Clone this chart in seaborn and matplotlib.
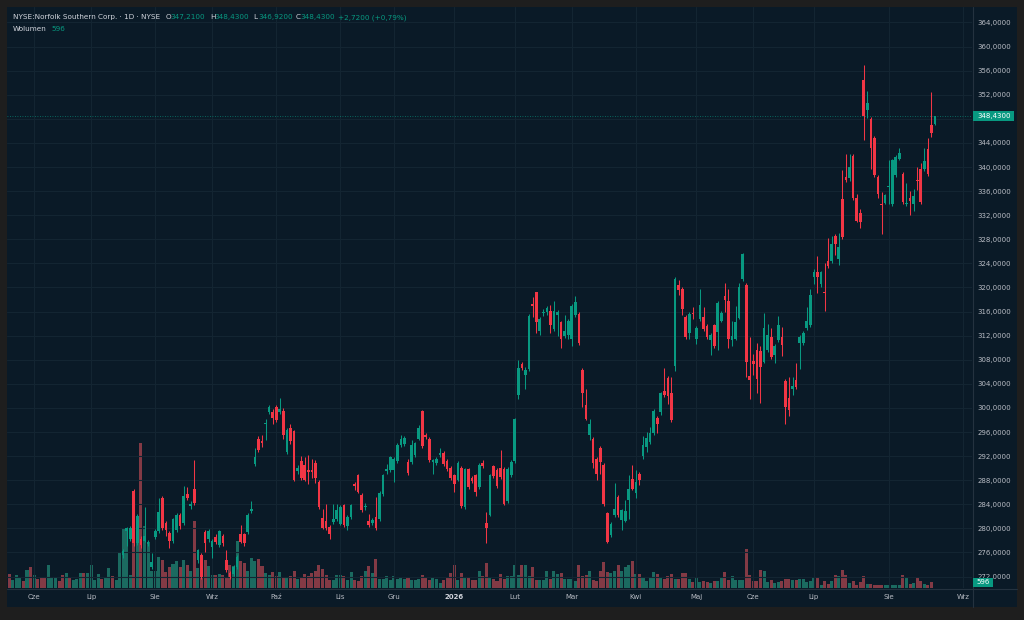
import numpy as np
import pandas as pd
import matplotlib.pyplot as plt
from matplotlib.patches import Rectangle
from matplotlib.lines import Line2D
import seaborn as sns

# NYSE:NSC daily bars. Bars before candle_start trade below the visible price range.
candle_start = 32

opens = [
    275.5, 279.5, 278.3, 286.2, 277.6, 278.3, 277.9, 277.4, 273.6, 278.5,
    279.6, 285.1, 280.9, 279.3, 277.9, 279.8, 282.2, 280.9, 285.7, 283.7,
    286.5, 274.7, 275.5, 279.4, 278.2, 276.9, 278.6, 277.2, 278.7, 274.8,
    272.6, 272.4, 273.6, 279.1, 279.0, 279.4, 282.9, 290.7, 294.9, 294.5,
    297.3, 299.4, 299.3, 300.1, 299.4, 299.5, 292.7, 296.6, 296.1, 289.5,
    291.2, 290.5, 289.7, 289.7, 290.9, 287.7, 281.7, 281.2, 280.2, 281.1,
    281.5, 280.8, 283.8, 280.4, 281.9, 287.4, 288.8, 285.6, 283.6, 281.2,
    280.9, 281.9, 281.6, 285.7, 289.5, 289.7, 289.7, 291.2, 293.8, 294.0,
    291.0, 291.0, 292.2, 294.9, 299.5, 295.5, 294.9, 291.0, 290.9, 292.2,
    292.5, 291.2, 290.1, 288.8, 288.1, 290.0, 283.6, 289.8, 288.4, 288.8,
    286.9, 290.8, 280.9, 282.3, 290.3, 289.7, 290.1, 289.9, 284.5, 288.8,
    291.2, 302.1, 307.3, 305.5, 306.4, 317.2, 319.2, 312.8, 315.7, 316.0,
    316.1, 313.1, 315.5, 314.2, 311.9, 312.1, 311.4, 315.4, 315.6, 306.3,
    300.5, 295.5, 294.8, 291.5, 293.3, 290.5, 282.5, 278.9, 282.2, 285.2,
    281.4, 281.3, 284.7, 288.2, 285.8, 289.0, 292.0, 293.5, 294.4, 295.8,
    298.4, 299.4, 302.8, 305.0, 302.4, 306.9, 320.4, 319.7, 315.1, 312.5,
    315.8, 311.4, 314.7, 315.1, 313.6, 311.3, 313.7, 312.6, 314.5, 318.6,
    317.7, 311.2, 311.5, 315.0, 321.4, 320.4, 305.3, 307.8, 309.6, 309.5,
    307.7, 309.6, 311.8, 308.8, 311.3, 311.8, 304.5, 301.7, 303.1, 304.7,
    310.8, 310.7, 313.3, 313.8, 321.8, 322.6, 320.6, 319.3, 324.4, 324.4,
    328.5, 324.8, 334.7, 338.3, 338.2, 341.8, 334.8, 332.3, 354.4, 349.5,
    348.0, 344.9, 338.3, 333.9, 334.1, 336.6, 333.9, 338.7, 341.4, 338.8,
    333.8, 334.8, 333.9, 337.8, 339.7, 339.7, 343.0, 346.9, 347.21,
]
highs = [
    276.6, 280.3, 280.4, 286.6, 282.4, 278.8, 283.5, 278.0, 275.9, 279.9,
    285.1, 285.3, 281.3, 279.6, 281.8, 282.6, 282.6, 287.1, 286.9, 284.5,
    291.3, 276.6, 275.9, 279.8, 279.9, 278.2, 279.0, 279.8, 279.1, 276.4,
    273.0, 274.0, 275.6, 280.5, 279.3, 282.6, 284.5, 293.3, 295.3, 295.5,
    298.2, 300.5, 299.9, 300.5, 301.7, 300.0, 296.6, 297.4, 296.4, 290.6,
    292.0, 291.9, 292.2, 291.6, 291.3, 288.0, 283.3, 284.1, 280.5, 284.1,
    284.0, 283.8, 284.1, 282.2, 284.1, 287.7, 289.1, 285.9, 284.2, 282.4,
    281.8, 285.2, 286.2, 289.1, 290.7, 292.1, 291.9, 294.1, 295.5, 295.3,
    291.6, 294.6, 294.4, 297.2, 299.7, 295.9, 295.2, 291.6, 291.9, 293.3,
    292.8, 291.5, 290.4, 289.1, 291.2, 290.3, 290.1, 290.1, 288.7, 289.1,
    290.8, 291.3, 282.7, 289.1, 290.6, 290.0, 293.0, 290.2, 290.2, 291.3,
    298.4, 308.0, 307.6, 306.8, 315.6, 318.4, 319.3, 315.1, 316.5, 317.0,
    317.1, 317.7, 316.3, 314.5, 315.5, 314.8, 317.3, 318.6, 315.9, 306.6,
    303.2, 298.2, 295.1, 291.8, 293.6, 290.8, 282.8, 281.0, 287.5, 285.5,
    283.3, 284.7, 288.8, 290.6, 289.7, 289.3, 295.3, 296.0, 296.9, 299.9,
    298.7, 302.7, 306.6, 305.3, 305.2, 321.8, 321.2, 320.0, 315.4, 315.9,
    316.8, 313.6, 319.7, 316.8, 313.9, 312.4, 314.0, 317.7, 316.1, 320.7,
    319.8, 314.5, 316.9, 320.7, 325.8, 320.7, 311.7, 309.0, 310.7, 310.3,
    315.7, 313.9, 313.2, 310.6, 315.2, 313.4, 304.8, 305.2, 305.2, 307.4,
    312.1, 312.8, 316.8, 319.8, 323.1, 325.2, 322.8, 324.1, 328.2, 328.5,
    328.8, 329.0, 339.5, 342.1, 342.1, 342.1, 335.5, 333.1, 356.9, 352.7,
    348.3, 345.2, 338.6, 335.8, 335.6, 341.1, 341.4, 342.0, 343.1, 339.1,
    337.3, 336.1, 336.3, 340.0, 340.7, 343.2, 344.8, 352.4, 348.43,
]
lows = [
    275.0, 277.0, 277.9, 277.0, 277.2, 276.8, 277.7, 277.0, 273.2, 278.2,
    279.3, 279.8, 278.8, 276.8, 277.5, 279.4, 279.9, 280.5, 284.7, 283.2,
    283.9, 274.3, 271.6, 276.0, 277.8, 275.0, 277.4, 276.9, 277.1, 272.7,
    271.6, 272.1, 273.3, 277.5, 277.1, 279.0, 282.6, 290.4, 292.7, 293.5,
    294.6, 299.0, 297.4, 297.6, 299.0, 294.9, 292.4, 294.0, 287.8, 289.0,
    288.1, 287.8, 287.4, 288.3, 287.6, 283.2, 279.9, 279.8, 278.3, 280.8,
    281.2, 280.5, 280.2, 279.7, 281.6, 286.3, 285.8, 282.8, 283.0, 280.2,
    280.6, 279.7, 281.3, 285.4, 289.0, 289.4, 287.7, 290.9, 293.5, 293.7,
    288.9, 290.7, 291.9, 294.6, 293.3, 294.8, 291.0, 289.1, 290.6, 291.9,
    290.4, 289.5, 288.1, 286.0, 287.8, 283.4, 283.3, 286.5, 287.6, 285.3,
    286.6, 290.0, 277.5, 282.0, 288.4, 286.7, 288.2, 283.8, 284.2, 288.5,
    290.9, 301.5, 306.3, 303.2, 306.1, 315.1, 312.4, 312.1, 315.2, 315.5,
    312.5, 312.8, 312.0, 310.0, 311.6, 311.5, 310.3, 315.1, 310.5, 300.2,
    298.0, 294.7, 290.1, 288.0, 289.1, 283.7, 277.5, 278.6, 281.9, 281.9,
    279.7, 281.0, 281.5, 286.3, 285.0, 287.2, 291.6, 292.7, 294.0, 295.5,
    295.9, 298.8, 301.8, 300.6, 297.7, 306.2, 318.7, 315.5, 311.5, 311.4,
    314.7, 310.6, 314.4, 312.8, 311.4, 308.8, 310.0, 309.7, 314.2, 316.0,
    310.0, 310.2, 311.2, 314.7, 321.1, 305.2, 301.5, 305.4, 302.5, 300.9,
    307.4, 309.3, 308.2, 307.4, 311.0, 308.7, 297.4, 298.6, 302.2, 303.2,
    306.5, 310.4, 313.0, 313.5, 320.5, 319.1, 320.0, 316.1, 323.3, 324.1,
    325.4, 323.8, 328.0, 337.5, 337.6, 334.5, 330.8, 329.8, 344.5, 348.2,
    339.6, 338.4, 334.8, 328.9, 333.8, 333.9, 333.6, 338.4, 341.1, 333.9,
    333.6, 332.1, 332.7, 336.2, 333.9, 339.4, 338.5, 345.0, 346.92,
]
closes = [
    276.2, 280.0, 280.0, 277.5, 282.0, 277.2, 278.7, 277.8, 274.4, 279.6,
    282.7, 280.1, 279.7, 277.9, 281.5, 282.2, 280.4, 285.3, 285.0, 284.0,
    284.2, 276.4, 272.0, 277.5, 279.6, 277.9, 277.8, 279.5, 277.5, 273.1,
    272.0, 273.6, 275.3, 277.8, 277.5, 282.3, 283.3, 291.8, 293.0, 294.2,
    297.5, 300.2, 298.3, 298.0, 299.9, 295.5, 296.3, 294.5, 288.1, 290.0,
    288.4, 288.1, 289.4, 289.4, 288.3, 283.5, 280.1, 280.1, 279.1, 281.6,
    283.1, 283.5, 280.5, 281.9, 283.8, 287.1, 286.1, 283.1, 283.7, 280.5,
    281.4, 280.0, 285.9, 288.8, 289.8, 291.8, 291.6, 293.8, 294.9, 295.0,
    289.2, 293.9, 294.1, 296.7, 293.6, 295.2, 291.3, 291.3, 291.6, 292.5,
    290.7, 289.8, 288.4, 287.4, 290.9, 283.7, 289.8, 286.8, 287.9, 286.1,
    290.5, 290.3, 280.1, 288.8, 288.7, 287.0, 288.5, 284.1, 289.9, 291.0,
    298.1, 306.6, 306.6, 306.3, 315.2, 317.0, 314.3, 314.8, 315.9, 316.6,
    313.8, 316.1, 315.9, 311.5, 312.8, 314.5, 317.0, 317.6, 310.7, 302.5,
    298.2, 297.3, 290.9, 289.0, 291.1, 284.0, 277.8, 280.7, 283.3, 282.2,
    283.0, 282.9, 286.6, 286.6, 287.7, 288.1, 293.8, 295.0, 295.9, 299.5,
    297.3, 302.4, 302.1, 302.0, 298.0, 321.4, 319.6, 316.4, 311.8, 315.6,
    315.6, 313.3, 317.1, 313.1, 311.7, 312.1, 310.3, 317.4, 315.8, 317.9,
    311.5, 311.9, 314.3, 320.1, 325.5, 307.7, 304.6, 307.3, 304.8, 306.8,
    313.2, 312.1, 308.5, 310.3, 313.7, 310.5, 300.2, 299.7, 303.7, 303.5,
    311.8, 312.5, 314.4, 318.7, 322.5, 321.7, 322.5, 319.0, 323.6, 327.2,
    327.3, 326.7, 328.3, 337.8, 340.0, 334.8, 331.1, 330.8, 348.4, 350.7,
    343.2, 338.7, 335.6, 333.7, 335.3, 336.8, 341.1, 341.6, 342.3, 334.2,
    333.9, 334.4, 335.2, 337.7, 334.2, 341.0, 338.8, 345.71, 348.43,
]

# volume in millions of shares, one per bar from the first bar
volume_m = [
    1.00, 0.58, 0.93, 0.70, 0.49, 1.28, 1.47, 0.93, 0.65, 0.77,
    0.72, 1.63, 0.77, 0.70, 0.47, 0.93, 1.05, 0.70, 0.58, 0.65,
    1.05, 1.05, 1.05, 1.63, 0.54, 1.00, 0.65, 0.77, 1.40, 0.86,
    0.58, 2.52, 4.20, 4.08, 0.93, 3.15, 3.36, 10.20, 4.34, 3.20,
    1.17, 1.17, 2.17, 1.98, 1.12, 1.47, 1.70, 1.87, 1.47, 1.98,
    1.63, 1.17, 4.67, 1.40, 2.31, 1.96, 1.52, 0.93, 0.93, 1.00,
    0.93, 0.70, 1.63, 1.52, 3.27, 1.87, 1.75, 1.17, 2.10, 1.87,
    2.03, 1.52, 1.05, 0.93, 1.10, 0.86, 1.10, 0.70, 0.77, 0.82,
    1.17, 0.63, 0.70, 0.98, 0.82, 1.05, 1.17, 1.63, 1.33, 0.93,
    0.58, 0.54, 0.93, 0.93, 0.86, 0.58, 1.10, 0.54, 0.47, 0.86,
    1.17, 1.52, 1.05, 2.05, 0.63, 0.63, 0.82, 0.54, 0.82, 0.63,
    0.70, 0.63, 0.70, 0.58, 0.58, 0.65, 0.93, 0.70, 0.54, 0.75,
    0.63, 0.35, 0.58, 0.77, 1.05, 1.63, 0.54, 1.05, 0.70, 0.70,
    0.54, 0.54, 1.17, 0.86, 1.75, 0.77, 0.65, 0.47, 0.98, 0.63,
    0.82, 0.82, 1.63, 0.93, 1.59, 1.63, 0.86, 1.45, 0.58, 0.58,
    0.54, 1.17, 0.65, 1.21, 0.98, 1.05, 0.65, 0.61, 0.61, 0.51,
    1.63, 0.86, 0.93, 1.17, 0.58, 0.47, 1.21, 1.80, 1.10, 1.05,
    1.17, 1.63, 1.21, 1.45, 1.59, 1.87, 1.00, 0.98, 0.77, 0.47,
    0.75, 1.10, 0.98, 0.77, 0.63, 0.86, 0.98, 0.65, 0.63, 1.05,
    1.05, 0.63, 0.40, 0.70, 0.40, 0.47, 0.40, 0.35, 0.47, 0.51,
    0.77, 1.10, 0.58, 0.86, 0.58, 0.58, 0.58, 2.73, 0.93, 0.51,
    0.47, 1.26, 1.19, 0.40, 0.58, 0.35, 0.40, 0.47, 0.65, 0.65,
    0.54, 0.54, 0.65, 0.65, 0.42, 0.47, 0.77, 0.77, 0.23, 0.47,
    0.28, 0.47, 0.93, 0.86, 1.28, 0.93, 0.35, 0.51, 0.23, 0.40,
    0.86, 0.28, 0.30, 0.23, 0.23, 0.23, 0.23, 0.21, 0.21, 0.23,
    0.21, 0.89, 0.70, 0.28, 0.35, 0.70, 0.47, 0.28, 0.23, 0.40,
    0.000596,
]
# up/down for the bars that have no visible candle
early_dirs = list("rgggrgrgrrrgggrrgrgggrggggrggrgg")

month_labels = ["Cze", "Lip", "Sie", "Wrz", "Paź", "Lis", "Gru", "2026",
                "Lut", "Mar", "Kwi", "Maj", "Cze", "Lip", "Sie", "Wrz"]
month_pos = [7, 23, 41, 57, 75, 93, 108, 125, 142, 158, 176, 193, 209, 226, 247, 268]
price_ticks = list(range(272, 365, 4))

FRAME = "#1e1e1e"
BG = "#0a1a27"
GRID = "#132532"
SEP = "#24323f"
TXT = "#b8bcc4"
UP = "#089981"
DOWN = "#f23645"
VOL_UP = "#1b6a60"
VOL_DOWN = "#833a45"

sns.set_theme(style="dark")
plt.rcParams["font.family"] = ["DejaVu Sans"]

W, H = 1024, 620
fig = plt.figure(figsize=(W / 100, H / 100), dpi=100, facecolor=FRAME)


def fr(x0, y0, x1, y1):
    return [x0 / W, 1 - y1 / H, (x1 - x0) / W, (y1 - y0) / H]


fig.patches.append(Rectangle((7 / W, 1 - 607 / H), 1010 / W, 600 / H,
                             transform=fig.transFigure, facecolor=BG,
                             edgecolor="none", zorder=-2))
rect = fr(7, 7, 972, 588)
axv = fig.add_axes(rect, zorder=1)
ax = fig.add_axes(rect, zorder=2)
xlim = (-0.62, 270.4)

# volume pane
o = np.array(opens)
h = np.array(highs)
l = np.array(lows)
c = np.array(closes)
cx = candle_start + np.arange(len(o))
up = c >= o
vol_dir = ["up" if d == "g" else "down" for d in early_dirs]
vol_dir += ["up" if u else "down" for u in up]
vol_df = pd.DataFrame({"bar": np.arange(len(volume_m)), "volume": volume_m,
                       "dir": vol_dir[:len(volume_m)]})
sns.barplot(data=vol_df, x="bar", y="volume", hue="dir",
            palette={"up": VOL_UP, "down": VOL_DOWN}, native_scale=True,
            width=0.85, saturation=1, linewidth=0, errorbar=None,
            legend=False, ax=axv)
axv.set_facecolor(BG)
axv.set_xlim(*xlim)
axv.set_ylim(0, max(volume_m) * 4.0)
axv.set_xticks([])
axv.set_yticks([])
axv.set_xlabel("")
axv.set_ylabel("")
for s in axv.spines.values():
    s.set_visible(False)

# candles
ax.set_facecolor("none")
colors = np.where(up, UP, DOWN)
ax.vlines(cx, l, h, colors=colors, linewidth=0.75, zorder=3)
body_low = np.minimum(o, c)
body_h = np.maximum(np.abs(c - o), 0.18)
ax.bar(cx, body_h, bottom=body_low, width=0.75, color=colors, linewidth=0, zorder=4)

last = closes[-1]
ax.set_xlim(*xlim)
ax.set_ylim(270.10, 366.57)
ax.set_xticks(month_pos)
ax.set_xticklabels(month_labels)
ax.set_yticks(price_ticks)
# the scale hides the tick label that sits under the last-price tag
ax.set_yticklabels(["" if abs(v - last) < 1.7 else f"{v:.4f}".replace(".", ",")
                    for v in price_ticks])
ax.yaxis.tick_right()
ax.grid(True, color=GRID, linewidth=0.8)
ax.set_axisbelow(True)
ax.tick_params(axis="y", length=0, pad=4.1, labelsize=5, labelcolor=TXT)
ax.tick_params(axis="x", length=0, pad=4.6, labelsize=5, labelcolor=TXT)
for t in ax.get_xticklabels():
    if t.get_text() == "2026":
        t.set_fontweight("bold")
        t.set_color("#d1d4dc")
for s in ax.spines.values():
    s.set_visible(False)

# last price line and tags
ax.axhline(last, color=UP, linewidth=0.6, linestyle=(0, (1, 2)), alpha=0.8, zorder=2)
yt = ax.get_yaxis_transform()
span = ax.get_ylim()[1] - ax.get_ylim()[0]
tag_h = span * 10 / 581
ax.add_patch(Rectangle((1.0007, last - tag_h / 2), 0.0431, tag_h, transform=yt,
                       facecolor=UP, edgecolor="none", clip_on=False, zorder=5))
ax.text(1.0059, last, f"{last:.4f}".replace(".", ","), transform=yt, ha="left",
        va="center", color="white", fontsize=5, zorder=6, clip_on=False)
ax.add_patch(Rectangle((1.0007, 0.0012), 0.0213, 0.0165, transform=ax.transAxes,
                       facecolor=UP, edgecolor="none", clip_on=False, zorder=5))
ax.text(1.0114, 0.0095, f"{volume_m[-1] * 1e6:.0f}", transform=ax.transAxes,
        ha="center", va="center", color="white", fontsize=5, zorder=6, clip_on=False)

# pane separators
fig.add_artist(Line2D([972.5 / W, 972.5 / W], [1 - 7 / H, 1 - 607 / H], color=SEP, lw=0.8))
fig.add_artist(Line2D([7 / W, 1017 / W], [1 - 588.5 / H, 1 - 588.5 / H], color=SEP, lw=0.8))


# legend header
def fmt(v):
    return f"{v:.4f}".replace(".", ",")


HEAD = "#d1d4dc"
hy = 1 - 17.3 / H
fig.text(12.7 / W, hy, "NYSE:Norfolk Southern Corp. · 1D · NYSE", color=HEAD,
         fontsize=5.2, va="center")
for lab, val, xl in [("O", opens[-1], 166), ("H", highs[-1], 210),
                     ("L", lows[-1], 253.7), ("C", closes[-1], 296)]:
    fig.text(xl / W, hy, lab, color=HEAD, fontsize=5.2, va="center")
    fig.text((xl + 4.7) / W, hy, fmt(val), color=UP, fontsize=5.2, va="center")
chg = closes[-1] - closes[-2]
pct = chg / closes[-2] * 100
fig.text(338 / W, hy, f"+{fmt(chg)} (+{pct:.2f}%)".replace(".", ","), color=UP,
         fontsize=5.2, va="center")
fig.text(12.7 / W, 1 - 29.3 / H, "Wolumen", color=HEAD, fontsize=5.2, va="center")
fig.text(51 / W, 1 - 29.3 / H, f"{volume_m[-1] * 1e6:.0f}", color=UP, fontsize=5.2,
         va="center")

fig.savefig("out.png", dpi=100, facecolor=FRAME)
